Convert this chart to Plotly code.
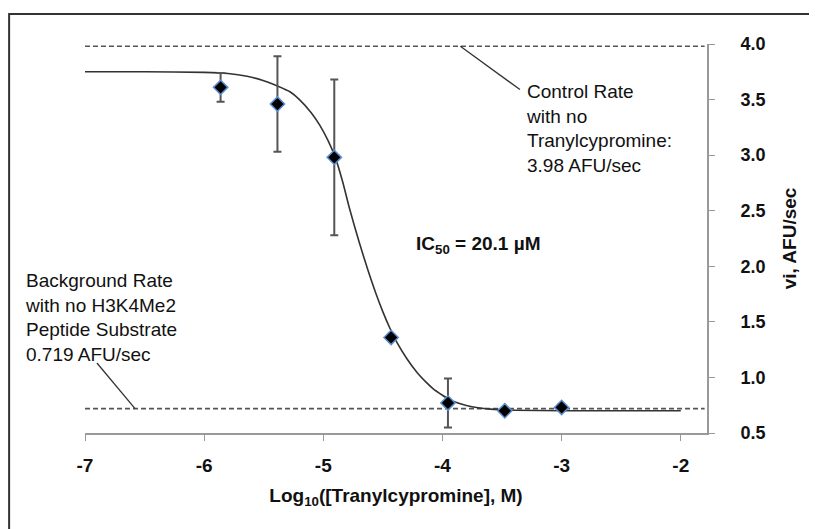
from __future__ import annotations

import plotly.graph_objects as go

FONT = "Liberation Sans, Arial, sans-serif"

# measured points (log10 of inhibitor concentration, M) and rates
LOG_CONC = [-5.862, -5.385, -4.908, -4.431, -3.954, -3.477, -3.0]
RATE = [3.61, 3.46, 2.98, 1.36, 0.77, 0.70, 0.73]
RATE_ERR = [0.13, 0.43, 0.70, 0.03, 0.22, 0.02, 0.03]

# fitted curve
CURVE_X = [-7.0, -6.5, -6.0, -5.8, -5.64, -5.5, -5.38, -5.28, -5.2, -5.1, -5.03, -4.96, -4.9,
           -4.84, -4.78, -4.7, -4.63, -4.56, -4.5, -4.44, -4.38, -4.3, -4.21, -4.14, -4.08,
           -4.0, -3.94, -3.87, -3.8, -3.7, -3.6, -3.4, -3.0, -2.5, -2.0]
CURVE_Y = [3.75, 3.75, 3.745, 3.735, 3.71, 3.67, 3.62, 3.57, 3.50, 3.38, 3.27, 3.13, 2.98,
           2.77, 2.52, 2.22, 1.98, 1.76, 1.59, 1.44, 1.31, 1.17, 1.04, 0.96, 0.90,
           0.84, 0.80, 0.77, 0.748, 0.727, 0.715, 0.705, 0.70, 0.70, 0.70]

CONTROL_RATE = 3.98
BACKGROUND_RATE = 0.719
LINE_X = [-7.0, -1.8]

X_TICKS = [-7, -6, -5, -4, -3, -2]
X_TICK_LABELS = ["-7", "-6", "-5", "-4", "-3", "-2"]
Y_TICKS = [0.5, 1.0, 1.5, 2.0, 2.5, 3.0, 3.5, 4.0]
Y_TICK_LABELS = ["0.5", "1.0", "1.5", "2.0", "2.5", "3.0", "3.5", "4.0"]


def main() -> None:
    fig = go.Figure()

    for level in (CONTROL_RATE, BACKGROUND_RATE):
        fig.add_trace(go.Scatter(
            x=LINE_X, y=[level, level], mode="lines",
            line={"color": "#555555", "width": 1.6, "dash": "5px,3px"},
            hoverinfo="skip", showlegend=False,
        ))

    fig.add_trace(go.Scatter(
        x=CURVE_X, y=CURVE_Y, mode="lines",
        line={"color": "#333333", "width": 1.6, "shape": "spline", "smoothing": 0.6},
        showlegend=False,
    ))

    fig.add_trace(go.Scatter(
        x=LOG_CONC, y=RATE, mode="markers",
        error_y={"type": "data", "array": RATE_ERR, "color": "#555555",
                 "thickness": 2, "width": 4},
        marker={"symbol": "diamond", "size": 11, "color": "black",
                "line": {"color": "#5b8fd0", "width": 1.5}},
        showlegend=False,
    ))

    # leader lines from the labels to the dashed reference lines
    fig.add_shape(type="line", x0=-3.85, y0=CONTROL_RATE, x1=-3.35, y1=3.59,
                  line={"color": "#333333", "width": 1.3})
    fig.add_shape(type="line", x0=-6.90, y0=1.13, x1=-6.58, y1=BACKGROUND_RATE,
                  line={"color": "#333333", "width": 1.3})

    # outer frame, cut off at the right and bottom of the picture
    fig.add_shape(type="rect", xref="paper", yref="paper",
                  x0=-0.122, y0=-0.3, x1=1.25, y1=1.077,
                  line={"color": "#333333", "width": 2})

    text_font = {"family": FONT, "size": 19, "color": "#111111"}
    fig.add_annotation(
        x=-3.317, y=3.236, xanchor="left", yanchor="middle", align="left",
        text="Control Rate<br>with no<br>Tranylcypromine:<br>3.98 AFU/sec",
        showarrow=False, font=text_font,
    )
    fig.add_annotation(
        xref="paper", x=-0.1, y=1.535, xanchor="left", yanchor="middle", align="left",
        text="Background Rate<br>with no H3K4Me2<br>Peptide Substrate<br>0.719 AFU/sec",
        showarrow=False, font=text_font,
    )
    fig.add_annotation(
        x=-3.70, y=2.19, xanchor="center", yanchor="middle",
        text="<b>IC<sub>50</sub> = 20.1 µM</b>",
        showarrow=False, font=text_font,
    )

    # the page adds an 8 px body margin, so the margins are trimmed by that much
    fig.update_layout(
        width=817, height=529,
        margin={"l": 77, "r": 118, "t": 36, "b": 104},
        paper_bgcolor="white", plot_bgcolor="white",
        font={"family": FONT, "color": "#111111"},
    )
    fig.update_xaxes(
        range=[-7, -1.78], tickvals=X_TICKS, ticktext=X_TICK_LABELS,
        showgrid=False, zeroline=False, showline=True, linecolor="#999999", linewidth=2,
        ticks="outside", ticklen=6, tickcolor="#999999", tickwidth=1,
        ticklabelstandoff=8,
        tickfont={"family": FONT, "size": 19, "color": "#111111", "weight": "bold"},
        title={"text": "<b>Log<sub>10</sub>([Tranylcypromine], M)</b>",
               "font": {"family": FONT, "size": 19, "color": "#111111"}, "standoff": 14},
        automargin=False,
    )
    fig.update_yaxes(
        side="right", range=[0.5, 4.0], tickvals=Y_TICKS, ticktext=Y_TICK_LABELS,
        showgrid=False, zeroline=False, showline=True, linecolor="#999999", linewidth=2,
        ticks="outside", ticklen=6, tickcolor="#999999", tickwidth=1,
        ticklabelstandoff=22,
        tickfont={"family": FONT, "size": 18, "color": "#111111", "weight": "bold"},
        title={"text": "<b>vi, AFU/sec</b>",
               "font": {"family": FONT, "size": 19, "color": "#111111"}, "standoff": 18},
        automargin=False,
    )

    fig.write_html("out.html")


if __name__ == "__main__":
    main()
